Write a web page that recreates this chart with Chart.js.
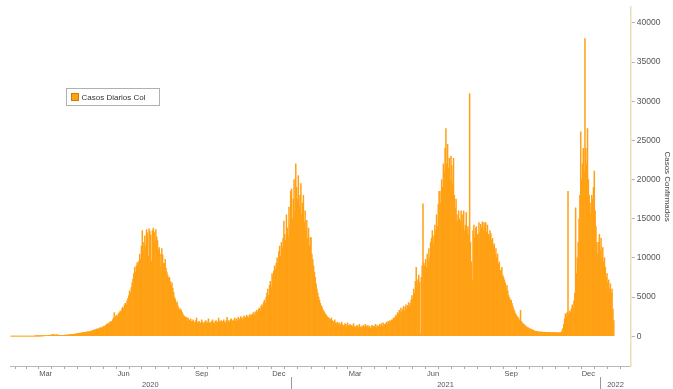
<!DOCTYPE html>
<html><head><meta charset="utf-8">
<script src="https://cdn.jsdelivr.net/npm/chart.js@4.4.1/dist/chart.umd.min.js"></script>
<style>html,body{margin:0;padding:0;background:#fff}#wrap{position:relative;width:673px;height:389px}</style>
</head><body><div id="wrap"><canvas id="c" width="673" height="389"></canvas></div>
<script>
// ---------- DATA ----------
const startDate = '2020-02-06';          // date of first value in dailyCases
const axisStart = '2020-02-05';
const axisEnd   = '2022-02-06';
const seriesLabel = 'Casos Diarios Col';
const yAxisTitle = 'Casos Confirmados';
const yTickValues = [0, 5000, 10000, 15000, 20000, 25000, 30000, 35000, 40000];
const monthNames = ['Jan','Feb','Mar','Apr','May','Jun','Jul','Aug','Sep','Oct','Nov','Dec'];
const labelledMonths = ['Mar','Jun','Sep','Dec'];
const yearLabels = ['2020','2021','2022'];
const yearStarts = ['2021-01-01','2022-01-01'];

const dailyCases = [
 0,0,0,0,0,0,0,0,0,0,0,0,0,0,0,0,0,0,0,0,0,0,0,0,0,0,0,0,0,
 1,2,3,5,8,10,15,20,25,30,40,50,60,70,80,90,
 100,120,150,170,180,200,190,150,130,170,160,140,120,110,100,
 90,100,110,120,130,150,140,160,170,180,200,220,210,230,250,270,260,300,
 320,350,340,380,400,420,390,450,480,500,470,520,550,580,560,600,620,650,700,
 750,800,780,850,900,950,880,1000,1050,1100,1000,1150,1200,1300,1250,1400,
 1500,1600,1550,1700,1800,1900,1800,2100,2300,
 3000,
 2400,2600,2700,2500,2900,3000,3200,3100,3500,
 3700,3600,4000,4200,3900,4500,4800,5200,
 5800,5500,6200,6800,7300,8000,
 8800,8200,9000,9400,9100,9600,
 10500,9800,11500,
 13500,12000,10800,12800,11500,
 13600,13200,10200,13700,13400,12900,9600,13500,13800,13300,11800,13600,12700,12200,
 11000,11300,10500,8900,11200,10400,9300,
 9300,9800,8700,8200,7800,7400,
 7500,7000,6500,6800,6100,5600,5000,4700,
 4200,4400,3900,3600,3300,3500,3300,3000,2800,2600,2500,2400,
 2400,2200,2300,2100,2000,2200,1900,
 1900,2100,1700,1800,2000,2300,1700,
 1800,1900,1600,1700,2100,1800,1600,
 1700,1900,2000,1600,1800,2200,1700,
 1600,1800,1900,2100,1700,1600,1900,
 2000,1800,1700,2300,1900,1800,2000,
 1700,1900,2100,1800,1700,2000,2400,
 1900,2000,1800,2100,2200,1900,2000,
 2100,2300,1900,2200,2000,2400,2100,
 2200,2500,2300,2100,2400,2600,2300,
 2400,2700,2500,2300,2600,2800,2500,2700,
 2800,3000,2700,3100,2900,3300,3000,3400,3600,3200,3800,4000,3700,4300,4600,4200,
 5000,5500,6000,5200,6500,7000,6200,8000,7600,8300,9000,8500,9300,10000,9400,
 10800,11500,10200,12000,11300,12500,
 14700,13000,12200,15500,13800,12800,16500,14200,18500,
 18800,15000,17500,20000,16000,22000,
 19000,17500,20500,16500,18000,19500,15500,17000,
 18000,14500,16000,13500,14800,12500,13800,11500,12600,
 12600,10500,9800,9000,8200,7500,6700,
 6000,5500,5000,4600,4200,3900,3700,
 3400,3200,3000,2800,2700,2500,2400,2300,2200,2100,2300,
 2000,1900,1800,2100,1700,1600,1800,
 1500,1700,1600,1400,1800,1500,1300,
 1400,1600,1500,1200,1700,1400,1300,
 1500,1300,1400,1200,1600,1300,1100,
 1200,1400,1300,1100,1500,1200,1000,
 1300,1200,1400,1100,1500,1300,1200,
 1400,1100,1300,1000,1200,1400,1100,
 1300,1200,1500,1100,1400,1200,1300,
 1500,1300,1600,1200,1700,1400,1500,
 1600,1800,1500,1900,1700,2000,1800,
 2100,2000,2300,2200,
 2400,2700,2500,3000,2800,3300,3100,3600,3000,3400,3800,3200,3700,4000,3500,3900,4300,3800,4200,
 4600,5200,4800,6000,5500,7000,
 8800,
 7200,6500,7800,6900,
 300,
 7500,9000,
 16900,
 9300,9000,9800,8800,10500,9500,11200,10000,12000,
 12500,13500,11800,12800,14200,13500,15500,14000,16800,18500,
 18500,17000,20000,19000,22000,21000,24000,
 26500,
 22000,24500,21500,22700,20000,23000,21800,19500,
 22700,18000,16400,17500,15500,14700,16000,15000,
 14700,16000,13800,15500,16000,13500,14200,15800,13500,14000,13000,
 31000,
 12000,9500,7100,
 13500,14200,12500,13800,14000,13000,12800,14500,13200,
 14300,13800,14600,13500,14500,14000,14500,13300,14200,13000,12800,13500,
 13100,12200,12500,11500,11800,10500,11200,10000,10500,9200,9500,8400,
 8400,8800,7800,7500,7200,6800,6200,6500,5800,5200,4900,4600,
 4600,4200,3800,3500,3200,2900,2700,2500,2400,2200,2000,
 3300,
 1900,1700,1600,1500,1400,1300,1200,1100,
 1100,1000,950,900,850,800,750,700,
 650,600,620,580,550,560,520,540,500,510,480,500,520,490,470,500,480,460,500,470,450,480,460,440,470,450,430,460,440,420,450,
 500,700,1000,1500,2200,
 2900,2600,3000,
 18500,
 2800,3200,3000,3500,4000,3600,4500,5500,
 16400,
 8000,10000,12000,15000,18000,
 26100,
 20000,22000,24000,21000,
 38000,
 24000,22000,
 26500,
 20000,18000,17000,
 15600,
 18000,17500,19000,
 21100,
 16000,14000,12000,
 10500,12000,13000,
 11000,12500,10000,
 11300,
 9500,10000,
 8800,
 7500,8000,6800,7200,6000,
 6700,
 5500,6000,3500,2000
];

// ---------- HELPERS ----------
const DAY = 86400000;
const epoch = Date.UTC(2020, 0, 1);
const dayOf = s => (Date.parse(s + 'T00:00:00Z') - epoch) / DAY;
const first = dayOf(startDate);
const xMin = dayOf(axisStart), xMax = dayOf(axisEnd);
const points = dailyCases.map((v, i) => ({ x: first + i, y: v }));

// month ticks: start and middle of each month; labels at middle of Mar/Jun/Sep/Dec
const monthTicks = [];
for (let y = 2020; y <= 2022; y++) {
  for (let m = 0; m < 12; m++) {
    [1, 18].forEach(dd => {
      const d = (Date.UTC(y, m, dd) - epoch) / DAY;
      if (d >= xMin && d <= xMax) {
        const name = monthNames[m];
        const lab = (dd === 18 && labelledMonths.includes(name)) ? name : '';
        monthTicks.push({ value: d, label: lab });
      }
    });
  }
}
const bounds = yearStarts.map(dayOf);
const edges = [xMin, ...bounds, xMax];
const yearCenters = yearLabels.map((lab, i) => (edges[i] + edges[i + 1]) / 2);

const ORANGE = 'rgb(255,161,20)';

const legendBox = {
  id: 'legendBox',
  afterDraw(chart) {
    const ctx = chart.ctx;
    const ds = chart.data.datasets[0];
    ctx.save();
    ctx.font = '8px "Liberation Sans", Arial, sans-serif';
    const tw = ctx.measureText(ds.label).width;
    const x = 66.5, y = 88.5, h = 17, w = Math.max(93, tw + 24);
    ctx.fillStyle = '#fff';
    ctx.fillRect(x, y, w, h);
    ctx.strokeStyle = '#b0b0b0';
    ctx.lineWidth = 1;
    ctx.strokeRect(x, y, w, h);
    ctx.fillStyle = ds.backgroundColor;
    ctx.fillRect(x + 5, y + 5, 7, 7);
    ctx.strokeStyle = '#c98000';
    ctx.strokeRect(x + 5, y + 5, 7, 7);
    ctx.fillStyle = '#333';
    ctx.textBaseline = 'middle';
    ctx.fillText(ds.label, x + 15, y + h / 2 + 0.5);
    ctx.restore();
  }
};

// year separators on the second (year) axis row
const yearSeparators = {
  id: 'yearSeparators',
  afterDraw(chart) {
    const s = chart.scales.xYear;
    const ctx = chart.ctx;
    ctx.save();
    ctx.strokeStyle = '#999';
    ctx.lineWidth = 1;
    bounds.forEach(b => {
      const px = Math.round(s.getPixelForValue(b)) + 0.5;
      ctx.beginPath();
      ctx.moveTo(px, s.top);
      ctx.lineTo(px, s.bottom);
      ctx.stroke();
    });
    ctx.restore();
  }
};

Chart.defaults.font.family = '"Liberation Sans", Arial, sans-serif';
Chart.defaults.color = '#444';

new Chart(document.getElementById('c'), {
  type: 'bar',
  data: {
    datasets: [{
      label: seriesLabel,
      data: points,
      backgroundColor: ORANGE,
      borderWidth: 0,
      barPercentage: 1,
      categoryPercentage: 1,
      xAxisID: 'x',
      yAxisID: 'y'
    }]
  },
  plugins: [legendBox, yearSeparators],
  options: {
    responsive: false,
    animation: false,
    layout: { padding: { left: 10, top: 5, right: 0, bottom: 0 } },
    plugins: { legend: { display: false }, tooltip: { enabled: false } },
    scales: {
      x: {
        type: 'linear',
        position: 'bottom',
        min: xMin, max: xMax,
        offset: false,
        afterBuildTicks: s => { s.ticks = monthTicks.map(t => ({ value: t.value })); },
        afterFit: s => { s.height = 11; },
        ticks: {
          autoSkip: false, maxRotation: 0,
          padding: 0,
          font: { size: 7.5 },
          color: '#555',
          callback: (v, i) => monthTicks[i] ? monthTicks[i].label : ''
        },
        grid: { drawOnChartArea: false, tickLength: 3, color: '#a8a8a8' },
        border: { color: '#b8b8b8' }
      },
      xYear: {
        type: 'linear',
        position: 'bottom',
        min: xMin, max: xMax,
        offset: false,
        afterBuildTicks: s => { s.ticks = yearCenters.map(v => ({ value: v })); },
        afterFit: s => { s.height = 12; },
        ticks: {
          autoSkip: false, maxRotation: 0,
          padding: 3,
          font: { size: 7.5 },
          color: '#555',
          callback: (v, i) => yearLabels[i] || ''
        },
        grid: { display: false, drawOnChartArea: false, drawTicks: false },
        border: { display: false }
      },
      y: {
        type: 'linear',
        position: 'right',
        min: -3810, max: 42030,
        afterBuildTicks: s => { s.ticks = yTickValues.map(v => ({ value: v })); },
        ticks: { padding: 2, font: { size: 8.5 }, color: '#555', callback: v => String(v) },
        grid: { drawOnChartArea: false, tickLength: 4, color: '#b0b0b0' },
        border: { color: '#e9dfb5', width: 1.5 },
        title: { display: true, text: yAxisTitle, font: { size: 8 }, color: '#444', padding: { top: 1, bottom: 0 } }
      }
    }
  }
});
</script></body></html>
